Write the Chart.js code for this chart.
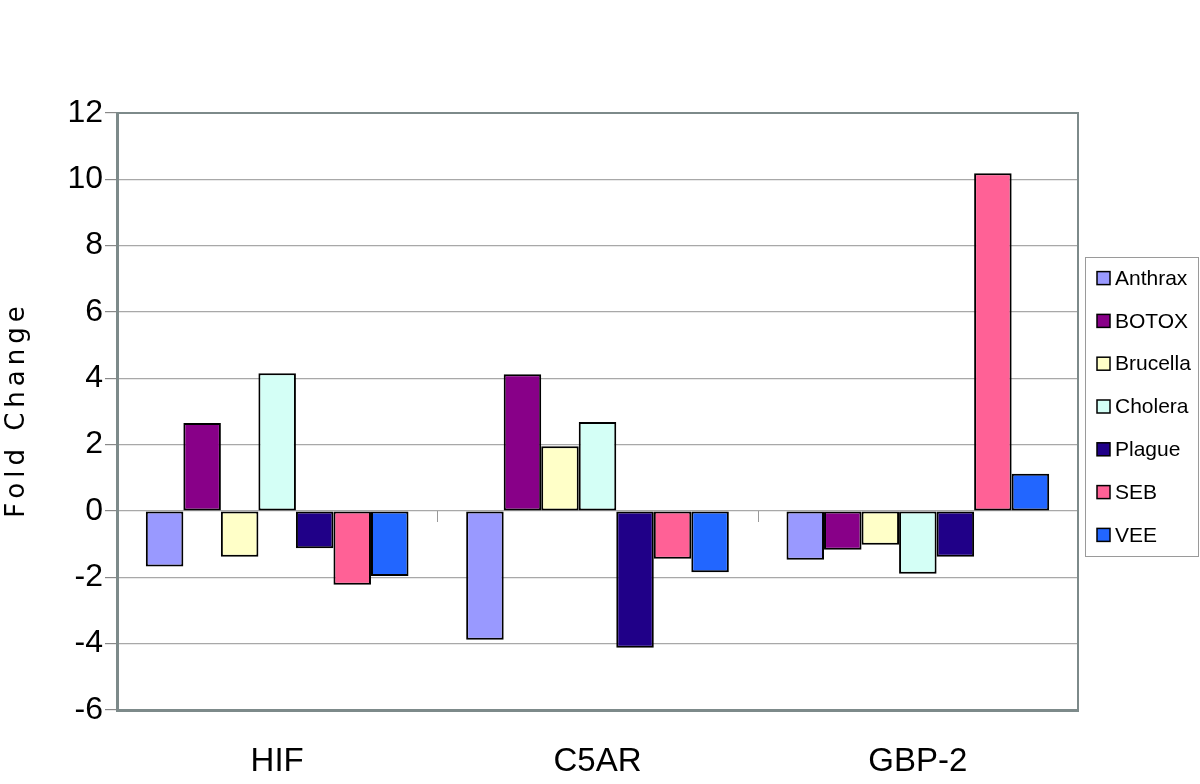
<!DOCTYPE html>
<html>
<head>
<meta charset="utf-8">
<script src="https://cdn.jsdelivr.net/npm/chart.js@4.4.0/dist/chart.umd.min.js"></script>
<style>
  html, body { margin: 0; padding: 0; background: #fff; }
  #wrap { width: 1200px; height: 784px; }
</style>
</head>
<body>
<div id="wrap"><canvas id="foldChart" width="1200" height="784"></canvas></div>
<script>
// genes on the x axis
const genes = ['HIF', 'C5AR', 'GBP-2'];

// fold change per agent (HIF, C5AR, GBP-2)
const anthrax  = [-1.67, -3.88, -1.47];
const botox    = [ 2.65,  4.12, -1.17];
const brucella = [-1.38,  1.95, -1.02];
const cholera  = [ 4.15,  2.68, -1.89];
const plague   = [-1.12, -4.12, -1.38];
const seb      = [-2.22, -1.44, 10.18];
const vee      = [-1.96, -1.85,  1.12];

const agentNames  = ['Anthrax', 'BOTOX', 'Brucella', 'Cholera', 'Plague', 'SEB', 'VEE'];
const agentValues = [anthrax, botox, brucella, cholera, plague, seb, vee];
const agentColors = ['#9999FF', '#880088', '#FFFFC8', '#D4FFF6', '#200088', '#FF6196', '#2266FF'];

const yTicks = [-6, -4, -2, 0, 2, 4, 6, 8, 10, 12];
const yTitle = 'Fold Change';

const axisGray = '#7d8a8a';
const gridGray = '#a8a8a8';
const fontFamily = '"Liberation Sans", Arial, sans-serif';

// frame round plot area, little ticks on the zero line, y title
const framePlugin = {
  id: 'framePlugin',
  afterDraw(chart) {
    const ctx = chart.ctx;
    const a = chart.chartArea;
    const x = chart.scales.x;
    const y = chart.scales.y;
    ctx.save();
    ctx.strokeStyle = axisGray;
    ctx.lineWidth = 2;
    ctx.beginPath();
    ctx.moveTo(a.left, a.top);
    ctx.lineTo(a.right, a.top);
    ctx.lineTo(a.right, a.bottom);
    ctx.stroke();

    const zero = y.getPixelForValue(0);
    ctx.strokeStyle = '#999';
    ctx.lineWidth = 1;
    for (let i = 1; i < genes.length; i++) {
      const px = Math.round((x.getPixelForValue(i - 1) + x.getPixelForValue(i)) / 2) + 0.5;
      ctx.beginPath();
      ctx.moveTo(px, zero);
      ctx.lineTo(px, zero + 11);
      ctx.stroke();
    }

    // y axis title, spaced out like the original
    ctx.translate(16, (a.top + a.bottom) / 2);
    ctx.rotate(-Math.PI / 2);
    ctx.font = '26px "DejaVu Sans", Verdana, sans-serif';
    ctx.letterSpacing = '5px';
    ctx.textAlign = 'center';
    ctx.textBaseline = 'middle';
    ctx.fillStyle = '#000';
    ctx.fillText(yTitle, 2, 1);
    ctx.restore();
  }
};

// boxed legend to the right of the plot (excel style)
const boxLegend = {
  id: 'boxLegend',
  afterDraw(chart) {
    const ctx = chart.ctx;
    const a = chart.chartArea;
    const step = 42.8;
    const n = chart.data.datasets.length;
    const left = a.right + 7;
    const w = 113;
    const h = step * (n - 1) + 42;
    const mid = (a.top + a.bottom) / 2 - 5;
    const top = mid - h / 2;
    ctx.save();
    ctx.strokeStyle = '#9a9a9a';
    ctx.lineWidth = 1;
    ctx.strokeRect(Math.round(left) + 0.5, Math.round(top) + 0.5, w, Math.round(h));
    ctx.font = '21px ' + fontFamily;
    ctx.textBaseline = 'middle';
    chart.data.datasets.forEach((ds, i) => {
      const cy = top + 21 + i * step;
      ctx.fillStyle = ds.backgroundColor;
      ctx.fillRect(left + 12, cy - 6.5, 13, 13);
      ctx.strokeStyle = '#000';
      ctx.lineWidth = 1.5;
      ctx.strokeRect(left + 12, cy - 6.5, 13, 13);
      ctx.fillStyle = '#000';
      ctx.fillText(ds.label, left + 30, cy + 1);
    });
    ctx.restore();
  }
};

const datasets = [];
for (let i = 0; i < agentNames.length; i++) {
  datasets.push({
    label: agentNames[i],
    data: agentValues[i],
    backgroundColor: agentColors[i],
    borderColor: '#000',
    borderWidth: 2,
    borderSkipped: false,
    categoryPercentage: 0.82,
    barPercentage: 1.0
  });
}

new Chart(document.getElementById('foldChart'), {
  type: 'bar',
  data: {
    labels: genes,
    datasets: datasets
  },
  plugins: [framePlugin, boxLegend],
  options: {
    responsive: false,
    animation: false,
    devicePixelRatio: 1,
    layout: {
      padding: { top: 113, bottom: 4, left: 4, right: 122 }
    },
    scales: {
      x: {
        grid: { display: false, drawTicks: false },
        border: { display: true, color: axisGray, width: 3 },
        afterFit: (scale) => { scale.height = 70; },
        ticks: {
          color: '#000',
          padding: 32,
          font: { family: fontFamily, size: 33 }
        }
      },
      y: {
        min: -6,
        max: 12,
        afterBuildTicks: (axis) => {
          axis.ticks = yTicks.map(v => ({ value: v }));
        },
        afterFit: (scale) => { scale.width = 113; },
        grid: {
          color: gridGray,
          lineWidth: 1.2,
          tickLength: 12,
          tickColor: '#888'
        },
        border: { display: true, color: axisGray, width: 3 },
        ticks: {
          color: '#000',
          padding: 2,
          font: { family: fontFamily, size: 32 }
        }
      }
    },
    plugins: {
      legend: { display: false },
      tooltip: { enabled: false }
    }
  }
});
</script>
</body>
</html>
